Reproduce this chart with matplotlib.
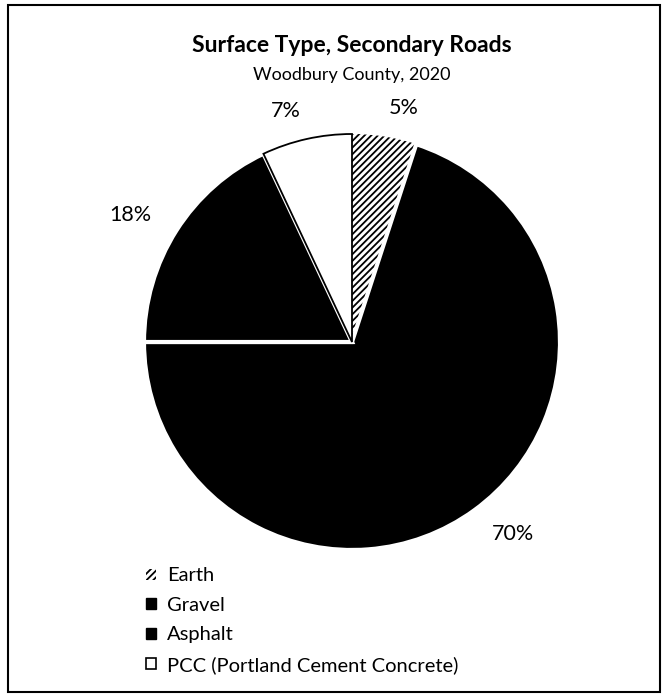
import matplotlib.pyplot as plt
from matplotlib.patches import Patch, Rectangle

# Data
categories = ['Earth', 'Gravel', 'Asphalt', 'PCC (Portland Cement Concrete)']
shares = [5, 70, 18, 7]
pct_labels = ['5%', '70%', '18%', '7%']

plt.rcParams['font.family'] = ['Lato', 'DejaVu Sans']
plt.rcParams['hatch.linewidth'] = 1.3

fig = plt.figure(figsize=(6.66, 6.94), dpi=100)

# outer frame
fig.patches.append(Rectangle((8 / 666, 2 / 694), 652 / 666, 687 / 694,
                             transform=fig.transFigure, fill=False,
                             edgecolor='black', linewidth=1.5))

fig.text(0.528, 0.935, 'Surface Type, Secondary Roads', ha='center', va='center',
         fontsize=16.5, fontweight='bold')
fig.text(0.528, 0.892, 'Woodbury County, 2020', ha='center', va='center', fontsize=13)

ax = fig.add_axes([144 / 666, 144 / 694, 416 / 666, 416 / 694])
wedges, texts = ax.pie(shares, labels=pct_labels, startangle=90, counterclock=False,
                       labeldistance=1.14, radius=1,
                       colors=['white', 'black', 'black', 'white'],
                       wedgeprops=dict(edgecolor='white', linewidth=3),
                       textprops=dict(fontsize=15.5))
wedges[0].set_hatch('/////')
wedges[0].set_edgecolor('black')
wedges[0].set_linewidth(0)
wedges[3].set_edgecolor('black')
wedges[3].set_linewidth(1.3)
wedges[3].set_zorder(3)
ax.set_xlim(-1, 1)
ax.set_ylim(-1, 1)
ax.set_aspect('equal')

handles = [Patch(facecolor='white', edgecolor='black', hatch='/////', linewidth=0),
           Patch(facecolor='black', edgecolor='black'),
           Patch(facecolor='black', edgecolor='black'),
           Patch(facecolor='white', edgecolor='black', linewidth=1.2)]
fig.legend(handles, categories, loc='upper left', bbox_to_anchor=(0.207, 0.194),
           frameon=False, fontsize=14.5, handlelength=0.5, handleheight=0.5,
           handletextpad=0.55, labelspacing=0.62, borderaxespad=0)

plt.savefig('out.png', dpi=100)
